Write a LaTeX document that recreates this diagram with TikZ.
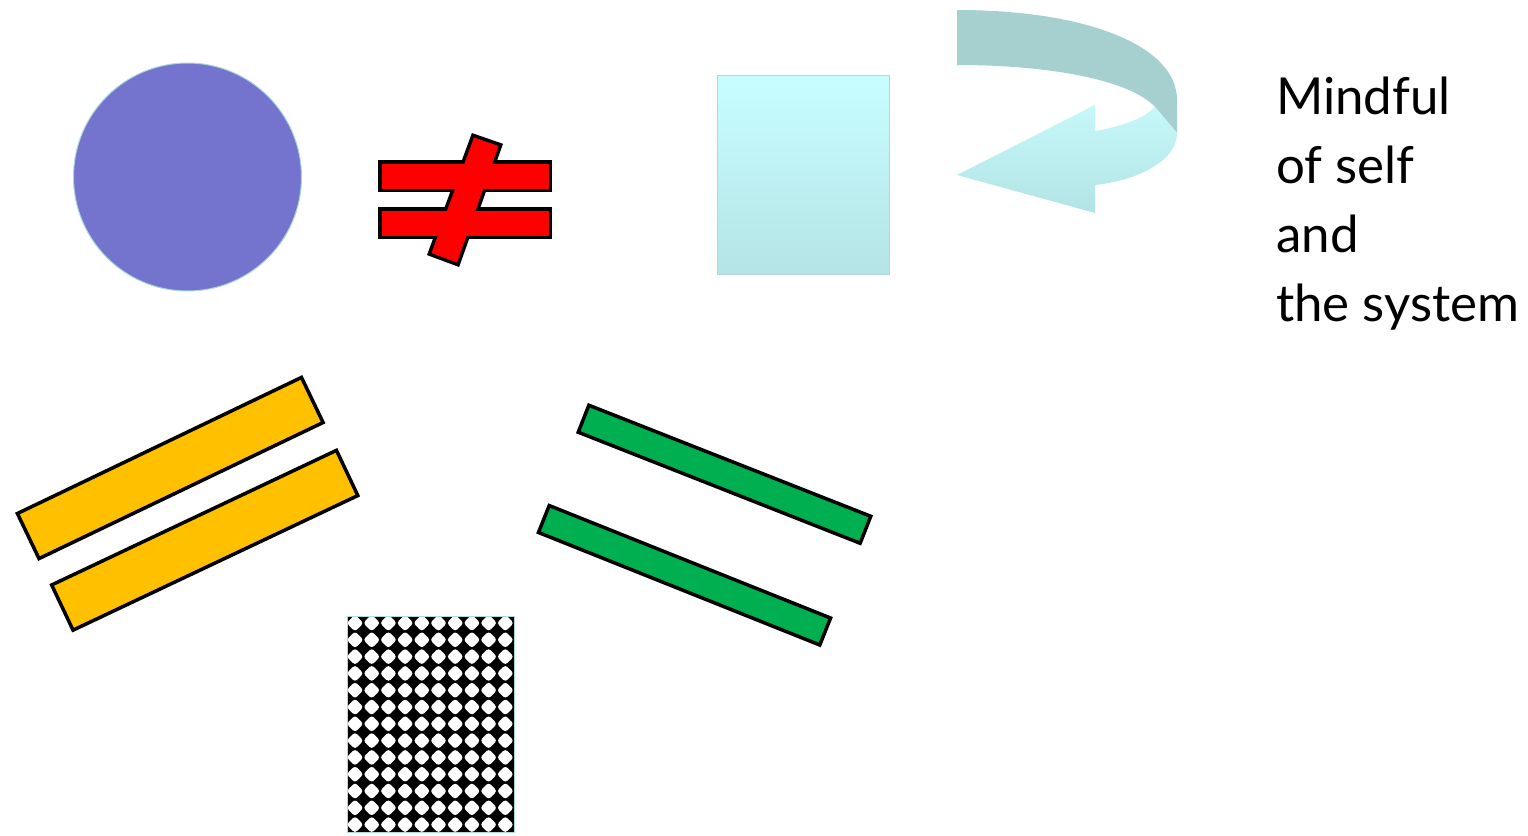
\documentclass[tikz,border=0pt]{standalone}
\usepackage{fontspec}
\setsansfont{Lato}
\usepackage{xcolor}
\usepackage{tikz}
\usetikzlibrary{shapes.geometric}
\definecolor{selfblue}{HTML}{7474CE}
\definecolor{discedge}{HTML}{A9D6DA}
\definecolor{boxtop}{HTML}{C8FEFF}
\definecolor{boxbottom}{HTML}{B4E4E6}
\definecolor{boxedge}{HTML}{AED8DC}
\definecolor{ribbondark}{HTML}{A6CFD0}
\definecolor{ribbontop}{HTML}{C6F8FA}
\definecolor{ribbonbottom}{HTML}{B2E4E6}
\definecolor{neqred}{HTML}{FF0000}
\definecolor{baryellow}{HTML}{FFC000}
\definecolor{bargreen}{HTML}{00B050}
\tikzset{
  selfdisc/.style={circle, draw=discedge, fill=selfblue, line width=1pt,
    minimum size=228pt, inner sep=0pt},
  mirrorbox/.style={rectangle, draw=boxedge, top color=boxtop, bottom color=boxbottom,
    line width=1pt, minimum width=172pt, minimum height=199pt, inner sep=0pt},
  yellowbar/.style={rectangle, draw=black, fill=baryellow, line width=3.5pt,
    minimum width=315pt, minimum height=50pt, inner sep=0pt},
  greenbar/.style={rectangle, draw=black, fill=bargreen, line width=3.5pt,
    minimum width=303pt, minimum height=29pt, inner sep=0pt},
  neqrim/.style={draw=black, fill=black, line width=7pt, line join=miter},
  neqbody/.style={fill=neqred},
  checkframe/.style={rectangle, fill=black, minimum width=166pt, minimum height=215pt,
    inner sep=0pt},
  checkdot/.style={fill=white, rounded corners=3pt},
  mindtext/.style={font=\sffamily\fontsize{51}{68.7}\selectfont, align=left, inner sep=0pt},
}

\begin{document}
\begin{tikzpicture}[x=1pt, y=-1pt]
  \useasboundingbox (0,0) rectangle (1528,835);

  % Top row: disc, not-equal sign, box
  \node[selfdisc] (self) at (187.5,177) {};
  \foreach \pass in {neqrim,neqbody}{
    \path[\pass] (381.5,163.5) rectangle (548.5,188.5);
    \path[\pass] (381.5,210.5) rectangle (548.5,235.5);
    \path[\pass] (474,137.5) -- (498.5,146) -- (457,262.5) -- (431.5,253) -- cycle;
  }
  \node[mirrorbox] (mirror) at (803.5,174.5) {};

  % Turning ribbon arrow
  \fill[ribbondark] (957,10) .. controls (1085,10) and (1177,45) .. (1177,100)
    -- (1177,133) -- (1155,107) .. controls (1130,80) and (1050,65) .. (957,65) -- cycle;
  \shade[top color=ribbontop, bottom color=ribbonbottom] (1155,107) -- (1177,133)
    .. controls (1177,160) and (1140,180) .. (1095,185) -- (1095,213) -- (957,175)
    -- (1095,105) -- (1095,131) .. controls (1125,126) and (1145,117) .. (1155,107) -- cycle;

  % Label (base anchor sits on the last line)
  \node[mindtext, anchor=base west] (mindful) at (1276,321) {Mindful\\of self\\and\\the system};

  % Equal pairs
  \node[yellowbar, rotate=25.6] (ybar1) at (170.25,468) {};
  \node[yellowbar, rotate=25.3] (ybar2) at (204.75,540.25) {};
  \node[greenbar, rotate=-21.5] (gbar1) at (724.5,474.25) {};
  \node[greenbar, rotate=-21.8] (gbar2) at (684.5,575.25) {};

  % Checked pattern
  \node[checkframe] (pattern) at (431,724.5) {};
  \begin{scope}
    \clip (pattern.south west) rectangle (pattern.north east);
    \foreach \i in {0,...,9}
      \foreach \j in {0,...,12}
        \fill[checkdot] ({355+16.7*\i},{614.5+16.8*\j}) -- ++(8.5,8.5) -- ++(-8.5,8.5)
          -- ++(-8.5,-8.5) -- cycle;
  \end{scope}
  \draw[boxedge, line width=1pt] (pattern.south west) rectangle (pattern.north east);

\end{tikzpicture}
\end{document}
